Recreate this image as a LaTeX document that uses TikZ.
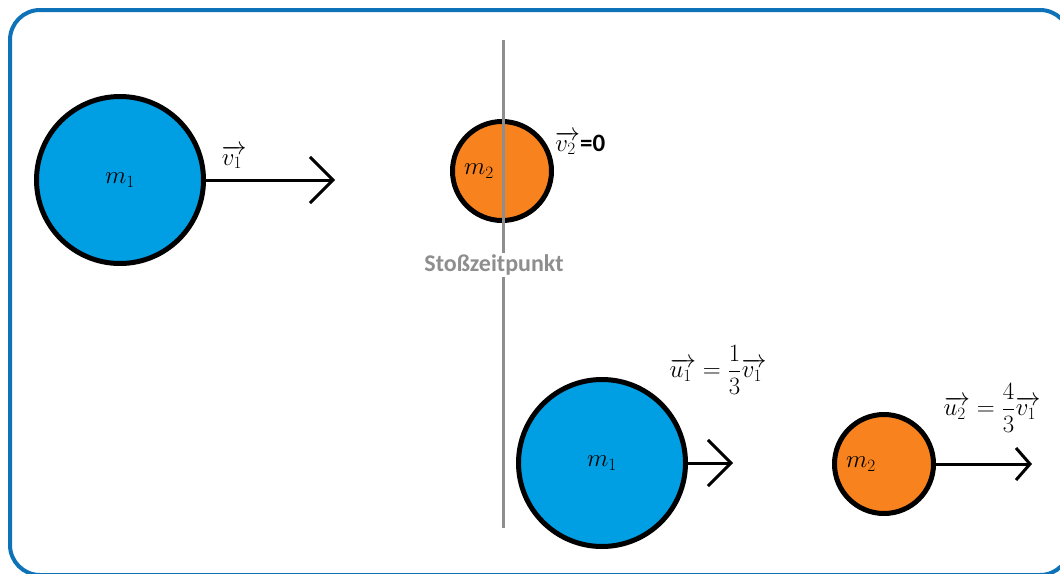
\documentclass[tikz,border=0pt]{standalone}
\usepackage{amsmath,amssymb}
\usepackage{fontspec}
\setsansfont{Carlito}
\usetikzlibrary{positioning,arrows.meta}
\definecolor{ballblue}{HTML}{009FE3}
\definecolor{ballorange}{HTML}{F7821E}
\definecolor{frameblue}{HTML}{0E72B8}
\definecolor{axisgray}{HTML}{8E8E8E}

\begin{document}
\begin{tikzpicture}[
    x=1pt, y=-1pt,
    bigball/.style={circle, draw=black, line width=5pt, fill=ballblue,
                    minimum size=167pt, inner sep=0pt},
    smallball/.style={circle, draw=black, line width=5pt, fill=ballorange,
                      minimum size=99pt, inner sep=0pt},
    mass/.style={font=\fontsize{26}{30}\selectfont, inner sep=0pt},
    vec/.style={font=\fontsize{27}{31}\selectfont, inner sep=0pt},
    arrow/.style={-{Straight Barb[length=23pt, width=46pt]}, line width=3pt},
    shortarrow/.style={-{Straight Barb[length=14pt, width=32pt]}, line width=3pt},
    axisline/.style={line width=3pt, axisgray},
    marker/.style={font=\fontsize{24}{28}\selectfont\sffamily\bfseries,
                   text=axisgray, fill=white, inner sep=2pt},
    framebox/.style={draw=frameblue, line width=4pt, rounded corners=30pt}
]
\clip (0,0) rectangle (1060,573);
\draw[framebox] (10,10) rectangle (1070,575);

% Balls
\node[bigball] (m1a) at (120,180) {};
\node[smallball] (m2a) at (502,171) {};
\node[bigball] (m1b) at (602,463) {};
\node[smallball] (m2b) at (884,464) {};

% Moment of impact
\coordinate (ctop) at (503,40);
\coordinate (cbot) at (503,528);
\draw[axisline] (ctop) -- (cbot);
\node[marker] (stoss) at (494,265) {Stoßzeitpunkt};

% Masses
\node[mass] (m1alab) at (m1a.center) {$m_1$};
\node[mass] (m2alab) at ([xshift=-23pt]m2a.center) {$m_2$};
\node[mass] (m1blab) at (m1b.center) {$m_1$};
\node[mass] (m2blab) at ([xshift=-23pt]m2b.center) {$m_2$};

% Velocities
\coordinate (v1tip) at (335,180);
\coordinate (u1tip) at (733,463);
\coordinate (u2tip) at (1032,464);
\draw[arrow] (m1a.east) -- (v1tip);
\draw[arrow] (m1b.east) -- (u1tip);
\draw[shortarrow] (m2b.east) -- (u2tip);

% Labels
\node[vec] (v1lab) at (234,157) {$\overrightarrow{v_1\,}$};
\node[vec, anchor=west] (v2lab) at (555,143) {$\overrightarrow{v_2\,}$\fontsize{25}{29}\selectfont\textsf{\bfseries =0}};
\node[vec] (u1lab) at (718,370) {$\overrightarrow{u_1\,}=\dfrac{1}{3}\overrightarrow{v_1\,}$};
\node[vec] (u2lab) at (992,408) {$\overrightarrow{u_2\,}=\dfrac{4}{3}\overrightarrow{v_1\,}$};

\end{tikzpicture}
\end{document}
